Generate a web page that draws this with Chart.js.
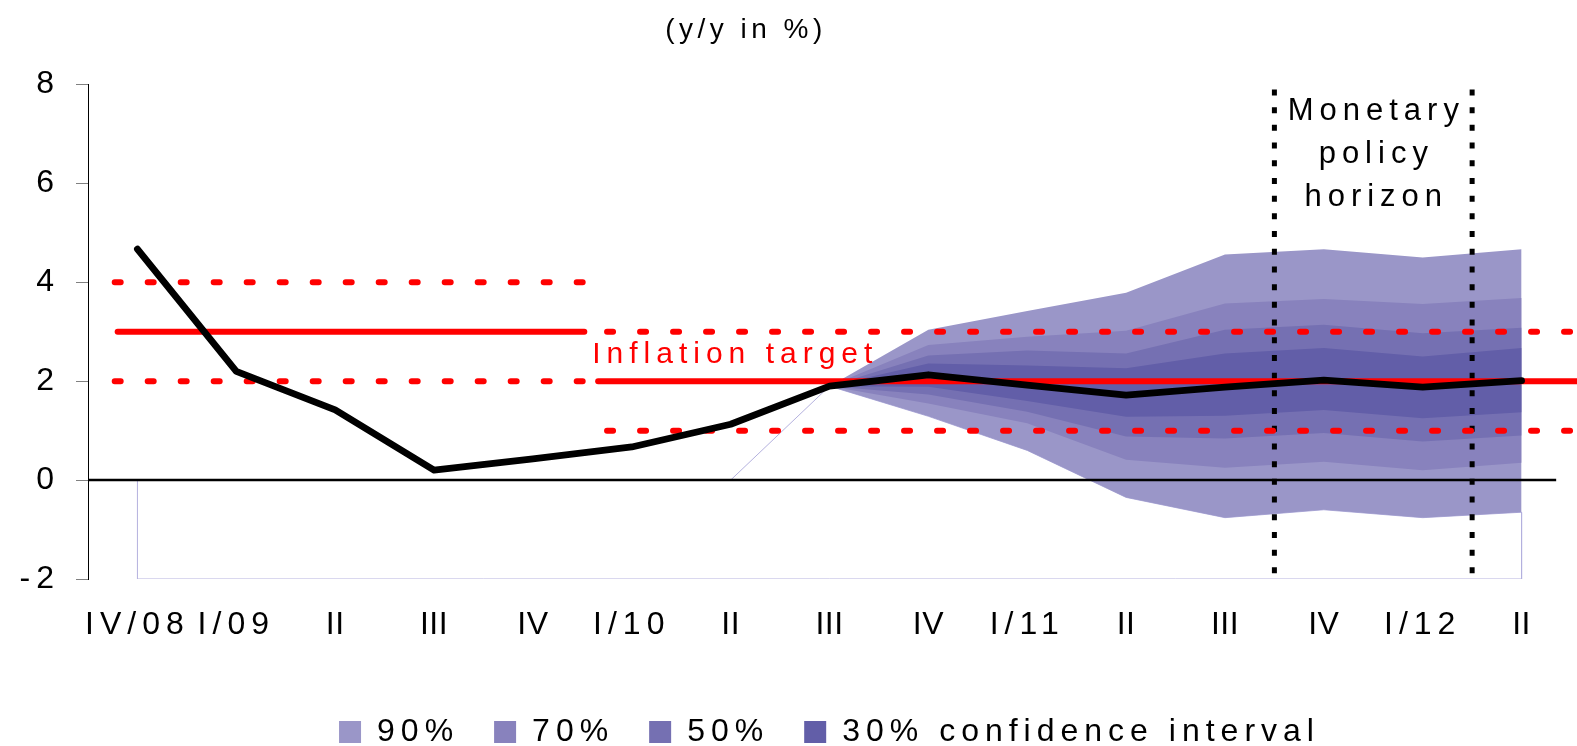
<!DOCTYPE html>
<html>
<head>
<meta charset="utf-8">
<script src="https://cdn.jsdelivr.net/npm/chart.js"></script>
<style>
  html, body { margin: 0; padding: 0; background: #ffffff; }
  canvas { display: block; }
</style>
</head>
<body>
<canvas id="chart" width="1577" height="746"></canvas>
<script>
// ---------- data ----------
const quarters = ['IV/08', 'I/09', 'II', 'III', 'IV', 'I/10', 'II', 'III', 'IV', 'I/11', 'II', 'III', 'IV', 'I/12', 'II'];
const inflation = [4.67, 2.2, 1.42, 0.2, 0.43, 0.67, 1.13, 1.9, 2.13, 1.92, 1.72, 1.88, 2.02, 1.88, 2.01];

// fan chart (projection from III/10 onwards)
const forecastStart = 7;
const upper90 = [1.9, 3.04, 3.42, 3.79, 4.56, 4.67, 4.5, 4.67];
const upper70 = [1.9, 2.73, 2.9, 3.02, 3.57, 3.66, 3.56, 3.68];
const upper50 = [1.9, 2.52, 2.62, 2.56, 3.04, 3.14, 2.97, 3.08];
const upper30 = [1.9, 2.36, 2.32, 2.26, 2.56, 2.67, 2.5, 2.67];
const lower30 = [1.9, 1.89, 1.6, 1.28, 1.3, 1.42, 1.25, 1.37];
const lower50 = [1.9, 1.73, 1.38, 0.88, 0.84, 0.95, 0.78, 0.9];
const lower70 = [1.9, 1.55, 1.15, 0.41, 0.25, 0.37, 0.2, 0.35];
const lower90 = [1.9, 1.29, 0.6, -0.35, -0.76, -0.6, -0.76, -0.65];
const bandLabels = ['90%', '70%', '50%', '30% confidence interval'];

// inflation target regimes (quarter-index extents)
const targetCentral = [3, 2];
const targetLower = [2, 1];
const targetUpper = [4, 3];
const targetStart = [-0.2, 4.66];
const targetEnd = [4.52, 14.6];
const toleranceStart = [-0.23, 4.75];
const toleranceEnd = [4.55, 14.6];

// monetary policy horizon bounds (between quarters)
const horizonBounds = [11.5, 13.5];

const yTicks = [-2, 0, 2, 4, 6, 8];

// ---------- styling ----------
const FONT = "'Liberation Sans', Arial, sans-serif";
const bandColors = ['#9a96c8', '#8882bd', '#7570b2', '#625ea8'];
const RED = '#ff0000';

// wide letter spacing as in the original artwork (roman numerals stay tight)
const canvas = document.getElementById('chart');
const c2d = canvas.getContext('2d');
let textSpacing = '6px';
const spacingFor = t => /^[IV]+$/.test(t) ? '0.5px' : textSpacing;
const rawFill = c2d.fillText.bind(c2d);
const rawMeasure = c2d.measureText.bind(c2d);
c2d.fillText = function (t, x, y, mw) {
  const prev = this.letterSpacing;
  this.letterSpacing = spacingFor(String(t));
  if (mw === undefined) rawFill(t, x, y); else rawFill(t, x, y, mw);
  this.letterSpacing = prev;
};
c2d.measureText = function (t) {
  const prev = this.letterSpacing;
  this.letterSpacing = spacingFor(String(t));
  const m = rawMeasure(t);
  this.letterSpacing = prev;
  return m;
};

const pts = (arr, off = 0) => arr.map((y, i) => ({ x: i + off, y }));
const seg = (x0, x1, y) => [{ x: x0, y }, { x: x1, y }];

const datasets = [];

// actual / projected inflation
datasets.push({
  label: 'CPI', data: pts(inflation), borderColor: '#000', borderWidth: 6.8,
  pointRadius: 0, borderCapStyle: 'round', borderJoinStyle: 'round', fill: false, order: 0
});

// inflation target lines
for (let k = 0; k < targetCentral.length; k++) {
  datasets.push({
    label: 't', data: seg(targetStart[k], targetEnd[k], targetCentral[k]),
    borderColor: RED, borderWidth: 6, borderCapStyle: 'round', pointRadius: 0, fill: false, order: 1, clip: false
  });
  datasets.push({
    label: 't', data: seg(toleranceStart[k], toleranceEnd[k], targetLower[k]),
    borderColor: RED, borderWidth: 6, borderCapStyle: 'round', borderDash: [6, 27], pointRadius: 0, fill: false, order: 1, clip: false
  });
  datasets.push({
    label: 't', data: seg(toleranceStart[k], toleranceEnd[k], targetUpper[k]),
    borderColor: RED, borderWidth: 6, borderCapStyle: 'round', borderDash: [6, 27], pointRadius: 0, fill: false, order: 1, clip: false
  });
}

// monetary policy horizon markers
horizonBounds.forEach(b => {
  datasets.push({
    label: 'h', data: [{ x: b, y: 7.9 }, { x: b, y: -2 }],
    borderColor: '#000', borderWidth: 5, borderDash: [6, 11.7], borderCapStyle: 'butt',
    pointRadius: 0, fill: false, order: 2
  });
});

// zero line
datasets.push({
  label: 'z', data: seg(-0.5, 14.35, 0), borderColor: '#000', borderWidth: 2.5,
  pointRadius: 0, fill: false, order: 3
});

// fan bands
const bands = [[lower90, upper90], [lower70, upper70], [lower50, upper50], [lower30, upper30]];
bands.forEach(([lo, up], j) => {
  datasets.push({
    label: 'lo', data: pts(lo, forecastStart), borderWidth: 0, borderColor: 'rgba(0,0,0,0)',
    pointRadius: 0, fill: false, order: 7 - j
  });
  datasets.push({
    label: bandLabels[j], data: pts(up, forecastStart), borderWidth: 0, borderColor: 'rgba(0,0,0,0)',
    backgroundColor: bandColors[j], pointRadius: 0, fill: '-1', order: 7 - j
  });
});

// outline of the fan's (invisible) base area
const baseOutline = [{ x: 0, y: yTicks[0] }]
  .concat(quarters.slice(0, forecastStart).map((q, i) => ({ x: i, y: 0 })))
  .concat(pts(lower90, forecastStart))
  .concat([{ x: quarters.length - 1, y: yTicks[0] }, { x: 0, y: yTicks[0] }]);
datasets.push({
  label: 'base', data: baseOutline, borderColor: '#b4b1de', borderWidth: 1,
  pointRadius: 0, fill: false, order: 8
});

// ---------- text plugin ----------
const textPlugin = {
  id: 'texts',
  afterDraw(chart) {
    const { ctx } = chart;
    const x = chart.scales.x, y = chart.scales.y;
    ctx.save();
    // title
    textSpacing = '4.5px';
    ctx.fillStyle = '#000';
    ctx.font = `28px ${FONT}`;
    ctx.textAlign = 'center';
    ctx.textBaseline = 'middle';
    ctx.fillText('(y/y in %)', 746, 30);
    textSpacing = '6px';
    // inflation target label
    ctx.textBaseline = 'alphabetic';
    ctx.fillStyle = RED;
    ctx.font = `30px ${FONT}`;
    ctx.textAlign = 'left';
    ctx.fillText('Inflation target', x.getPixelForValue(4.6), y.getPixelForValue(2.37));
    // horizon label
    ctx.fillStyle = '#000';
    ctx.font = `31px ${FONT}`;
    ctx.textAlign = 'center';
    const cx = x.getPixelForValue((horizonBounds[0] + horizonBounds[1]) / 2) + 3;
    ctx.fillText('Monetary', cx, y.getPixelForValue(7.29));
    ctx.fillText('policy', cx, y.getPixelForValue(6.42));
    ctx.fillText('horizon', cx, y.getPixelForValue(5.55));
    ctx.restore();
  }
};

new Chart(canvas, {
  type: 'line',
  data: { datasets },
  plugins: [textPlugin],
  options: {
    animation: false,
    responsive: false,
    devicePixelRatio: 1,
    events: [],
    layout: { padding: { left: 0, right: 6, top: 84.5, bottom: -12 } },
    elements: { line: { tension: 0 } },
    scales: {
      x: {
        type: 'linear', min: -0.5, max: 14.5,
        afterBuildTicks: s => { s.ticks = quarters.map((q, i) => ({ value: i })); },
        afterFit: s => { s.height = 102; },
        ticks: {
          autoSkip: false, maxRotation: 0, minRotation: 0, padding: 27, color: '#000',
          font: { family: FONT, size: 32 },
          callback: v => quarters[v]
        },
        grid: { display: false, drawTicks: false },
        border: { display: false }
      },
      y: {
        min: yTicks[0], max: yTicks[yTicks.length - 1],
        afterBuildTicks: s => { s.ticks = yTicks.map(v => ({ value: v })); },
        afterFit: s => { s.width = 88; },
        ticks: { padding: 16, color: '#000', font: { family: FONT, size: 32 } },
        grid: { drawOnChartArea: false, drawTicks: true, tickLength: 12, color: '#808080', tickColor: '#808080' },
        border: { display: true, color: '#000', width: 1 }
      }
    },
    plugins: {
      title: { display: false },
      tooltip: { enabled: false },
      legend: {
        position: 'bottom',
        fullSize: false,
        labels: {
          color: '#000',
          font: { family: FONT, size: 32 },
          boxWidth: 22, boxHeight: 22, padding: 35,
          filter: item => bandLabels.includes(item.text),
          sort: (a, b) => a.datasetIndex - b.datasetIndex
        }
      }
    }
  }
});
</script>
</body>
</html>
